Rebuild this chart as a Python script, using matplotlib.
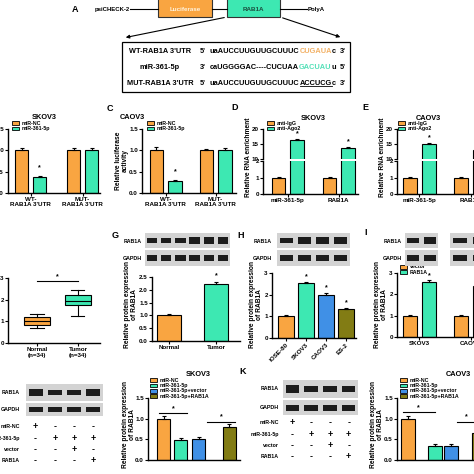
import numpy as np
import matplotlib
matplotlib.use("Agg")
import matplotlib.pyplot as plt
from matplotlib.patches import Rectangle
from matplotlib.transforms import blended_transform_factory

plt.rcParams["font.family"] = ["Liberation Sans", "DejaVu Sans"]
plt.rcParams["font.weight"] = "bold"

W = H = 474
ORANGE = "#F9A541"
GREEN = "#3DE8B2"
BLUE = "#4090E6"
OLIVE = "#827C14"

# ── Data ─────────────────────────────────────────────────────────────────────
LUC_GROUPS = ["WT-\nRAB1A 3'UTR", "MUT-\nRAB1A 3'UTR"]
B_NC, B_NC_ERR = [1.0, 1.0], [0.06, 0.06]
B_MIR, B_MIR_ERR = [0.37, 1.0], [0.03, 0.05]
C_NC, C_NC_ERR = [1.0, 1.0], [0.07, 0.03]
C_MIR, C_MIR_ERR = [0.27, 1.0], [0.04, 0.05]

RIP_GROUPS = ["miR-361-5p", "RAB1A"]
D_IGG, D_IGG_ERR = [1.0, 1.0], [0.04, 0.04]
D_AGO, D_AGO_ERR = [16.2, 13.6], [0.5, 0.5]
E_IGG, E_IGG_ERR = [1.0, 1.0], [0.03, 0.04]
E_AGO, E_AGO_ERR = [15.0, 13.0], [0.3, 0.4]

F_LABELS = ["Normal\n(n=34)", "Tumor\n(n=34)"]
F_NORMAL = [0.70, 0.85, 1.00, 1.20, 1.35]   # whislo, q1, med, q3, whishi
F_TUMOR = [1.25, 1.75, 1.95, 2.22, 2.45]

G_LABELS = ["Normal", "Tumor"]
G_VALS, G_ERR = [1.0, 2.22], [0.06, 0.10]
G_RAB1A = [0.35, 0.45, 0.4, 1.0, 1.0, 1.0]
G_GAPDH = [1.0] * 6

H_LABELS = ["IOSE-80", "SKOV3", "CAOV3", "ES-2"]
H_VALS, H_ERR = [1.0, 2.52, 1.97, 1.32], [0.05, 0.06, 0.12, 0.06]
H_RAB1A = [0.45, 1.0, 0.85, 0.8]
H_GAPDH = [1.0] * 4

I_GROUPS = ["SKOV3", "CAOV3"]
I_VEC, I_VEC_ERR = [1.0, 1.0], [0.04, 0.05]
I_RAB, I_RAB_ERR = [2.6, 2.4], [0.06, 0.08]
I_RAB1A = [0.6, 1.0, 0.7, 0.9]
I_GAPDH = [1.0] * 4

KD_LEGEND = ["miR-NC", "miR-361-5p", "miR-361-5p+vector", "miR-361-5p+RAB1A"]
J_VALS, J_ERR = [1.0, 0.48, 0.50, 0.81], [0.07, 0.06, 0.06, 0.05]
K_VALS, K_ERR = [1.0, 0.33, 0.34, 0.65], [0.07, 0.05, 0.05, 0.05]
J_RAB1A = [1.0, 0.7, 0.75, 0.85]
K_RAB1A = [1.0, 0.6, 0.65, 0.9]
JK_GAPDH = [1.0] * 4
TABLE_ROWS = ["miR-NC", "miR-361-5p", "vector", "RAB1A"]
TABLE = [["+", "-", "-", "-"],
         ["-", "+", "+", "+"],
         ["-", "-", "+", "-"],
         ["-", "-", "-", "+"]]

fig = plt.figure(figsize=(4.74, 4.74), dpi=100)
canvas = fig.add_axes([0, 0, 1, 1])
canvas.set_xlim(0, W)
canvas.set_ylim(H, 0)
canvas.axis("off")


def px_ax(x0, y0, x1, y1):
    ax = fig.add_axes([x0 / W, 1 - y1 / H, (x1 - x0) / W, (y1 - y0) / H])
    ax.set_facecolor("none")
    return ax


def T(x, y, s, size=4.5, **kw):
    kw.setdefault("ha", "center")
    kw.setdefault("va", "center")
    return canvas.text(x, y, s, fontsize=size, **kw)


def style(ax, ylim, yticks, ylabels):
    for s in ["top", "right"]:
        ax.spines[s].set_visible(False)
    for s in ["left", "bottom"]:
        ax.spines[s].set_linewidth(1.0)
    ax.set_ylim(*ylim)
    ax.set_yticks(yticks)
    ax.set_yticklabels(ylabels)
    ax.tick_params(length=2, width=0.8, labelsize=4.5, pad=1)


def bars(ax, xs, vals, errs, colors, width):
    ax.bar(xs, vals, width, color=colors, edgecolor="black", linewidth=0.8, zorder=2)
    ax.errorbar(xs, vals, yerr=[np.zeros(len(vals)), errs], fmt="none",
                ecolor="black", elinewidth=0.8, capsize=1.6, capthick=0.8, zorder=3)


def stars(ax, xs, tops, size=5):
    for x, y in zip(xs, tops):
        ax.text(x, y, "*", ha="center", va="bottom", fontsize=size, clip_on=False)


def legend_px(x, y, labels, colors, dy=5.3, size=3.8):
    for i, (lab, c) in enumerate(zip(labels, colors)):
        canvas.add_patch(Rectangle((x, y + i * dy - 1.8), 7, 3.8, fc=c, ec="black", lw=0.6))
        T(x + 10, y + i * dy, lab, size=size, ha="left")


def blot(box, intensities, n=None, band_h=0.32):
    ax = px_ax(*box)
    n = n or len(intensities)
    ax.set_xlim(-0.5, n - 0.5)
    ax.set_ylim(0, 1)
    ax.set_facecolor("#d3d3d3")
    for s in ax.spines.values():
        s.set_visible(False)
    ax.set_xticks([])
    ax.set_yticks([])
    lanes = np.arange(len(intensities))
    hts = [band_h * (0.45 + 0.55 * v) for v in intensities]
    ax.bar(lanes, hts, 0.72, bottom=[0.5 - h / 2 for h in hts], color="#1c1c1c",
           linewidth=0)
    return ax


def grouped(ax, a, b, aerr, berr, step, width=0.72):
    xa = np.arange(len(a)) * step
    bars(ax, xa, a, aerr, ORANGE, width)
    bars(ax, xa + 1, b, berr, GREEN, width)
    return xa


# ── A: construct diagram ─────────────────────────────────────────────────────
T(75, 9, "A", size=6.5)
T(130, 9, "psiCHECK-2", size=4.3, ha="right")
for x0, x1 in [(130, 158), (212, 227), (280, 307)]:
    canvas.plot([x0, x1], [9, 9], color="black", lw=0.8)
canvas.add_patch(Rectangle((158, -4), 54, 21, fc=ORANGE, ec="#333333", lw=0.8))
canvas.add_patch(Rectangle((227, -4), 53, 21, fc=GREEN, ec="#333333", lw=0.8))
T(185, 9, "Luciferase", size=4.5, color="#fff4e0")
T(253.5, 9, "RAB1A", size=4.5, color="#1b4d3e")
T(308, 9, "PolyA", size=4.3, ha="left")
arrow = dict(arrowstyle="-|>", lw=0.8, color="black", mutation_scale=5)
canvas.annotate("", xy=(123, 38), xytext=(227, 17), arrowprops=arrow)
canvas.annotate("", xy=(343, 38), xytext=(280, 17), arrowprops=arrow)
canvas.add_patch(Rectangle((122, 42), 228, 50, fc="none", ec="black", lw=0.9))

seq_rows = [
    ("WT-RAB1A 3'UTR", "5'", "3'", [("uaAUCCUUGUUGCUUUC", "black"), ("CUGAUA", "#F2B064"), ("c", "black")]),
    ("miR-361-5p", "3'", "5'", [("caUGGGGAC----CUCUAA", "black"), ("GACUAU", "#54E0B8"), ("u", "black")]),
    ("MUT-RAB1A 3'UTR", "5'", "3'", [("uaAUCCUUGUUGCUUUC", "black"), ("ACCUCG", "black"), ("c", "black")]),
]
underline_txt = None
for i, (lab, e5, e3, parts) in enumerate(seq_rows):
    y = 51 + i * 16
    T(160, y, lab, size=5.3)
    T(203, y, e5, size=5.3)
    T(343, y, e3, size=5.3)
    prev = T(210, y, parts[0][0], size=5.3, ha="left", color=parts[0][1])
    for j, (s, c) in enumerate(parts[1:]):
        prev = canvas.annotate(s, xy=(1, 0.5), xycoords=prev, ha="left", va="center",
                               fontsize=5.3, color=c)
        if i == 2 and j == 0:
            underline_txt = prev

# ── B / C: luciferase ────────────────────────────────────────────────────────
for box, nc, nce, mir, mire, title, tx, step, xl, lx in [
        ((8, 129, 100, 193), B_NC, B_NC_ERR, B_MIR, B_MIR_ERR, "SKOV3", 44, 2.89, (-0.75, 4.36), 12),
        ((142, 129, 236, 193), C_NC, C_NC_ERR, C_MIR, C_MIR_ERR, "CAOV3", 132, 2.7, (-0.78, 4.3), 147)]:
    ax = px_ax(*box)
    xa = grouped(ax, nc, mir, nce, mire, step)
    style(ax, (0, 1.5), [0, 0.5, 1.0, 1.5], ["0.0", "0.5", "1.0", "1.5"])
    ax.set_xlim(*xl)
    ax.set_xticks(xa + 0.5)
    ax.set_xticklabels(LUC_GROUPS, fontsize=4.5, linespacing=1.0)
    stars(ax, [xa[0] + 1], [mir[0] + mire[0] + 0.1])
    T(tx, 117, title, size=5.3)
    legend_px(lx, 123, ["miR-NC", "miR-361-5p"], [ORANGE, GREEN])
T(110, 108, "C", size=6.5)
T(122, 161, "Relative luciferase\nactivity", size=4.8, rotation=90, linespacing=1.0)

# ── D / E: RIP, broken axis ─────────────────────────────────────────────────
for x0, x1, igg, iggE, ago, agoE, title, tx, letter, lx, ylx, step, xl in [
        (263, 358, D_IGG, D_IGG_ERR, D_AGO, D_AGO_ERR, "SKOV3", 313, "D", 267, 249, 2.76, (-0.84, 4.3)),
        (397, 495, E_IGG, E_IGG_ERR, E_AGO, E_AGO_ERR, "CAOV3", 428, "E", 398, 383, 2.7, (-0.68, 4.47))]:
    top = px_ax(x0, 129, x1, 159)
    bot = px_ax(x0, 161, x1, 194)
    for ax in (top, bot):
        xa = grouped(ax, igg, ago, iggE, agoE, step)
        ax.set_xlim(*xl)
    style(top, (10, 20), [10, 15, 20], ["10", "15", "20"])
    top.spines["bottom"].set_visible(False)
    top.set_xticks([])
    style(bot, (0, 2), [0, 1, 2], ["0", "1", "2"])
    bot.set_xticks(xa + 0.5)
    bot.set_xticklabels(RIP_GROUPS, fontsize=4.5)
    stars(top, xa + 1, [a + e + 0.6 for a, e in zip(ago, agoE)])
    T(tx, 118, title, size=5.3)
    T(235 if letter == "D" else 365, 107, letter, size=6.5)
    legend_px(lx, 123, ["anti-IgG", "anti-Ago2"], [ORANGE, GREEN])
    T(ylx, 157, "Relative RNA enrichment", size=4.8, rotation=90)

# ── F: box plot ──────────────────────────────────────────────────────────────
ax = px_ax(8, 278, 100, 343)
keys = ["whislo", "q1", "med", "q3", "whishi"]
stats = [dict(zip(keys, F_NORMAL)), dict(zip(keys, F_TUMOR))]
bp = ax.bxp(stats, positions=[0, 1], widths=0.64, patch_artist=True, showfliers=False,
            boxprops=dict(lw=0.8), medianprops=dict(color="black", lw=0.8),
            whiskerprops=dict(lw=0.8), capprops=dict(lw=0.8))
for patch, c in zip(bp["boxes"], [ORANGE, GREEN]):
    patch.set_facecolor(c)
style(ax, (0, 3), [0, 1, 2, 3], ["0", "1", "2", "3"])
ax.set_xlim(-0.71, 1.54)
ax.set_xticks([0, 1])
ax.set_xticklabels(F_LABELS, fontsize=4.5, linespacing=1.1)
ax.plot([0, 1], [2.84, 2.84], color="black", lw=0.8, clip_on=False)
ax.text(0.5, 2.9, "*", ha="center", va="bottom", fontsize=5, clip_on=False)

# ── G ────────────────────────────────────────────────────────────────────────
T(115, 235, "G", size=6.5)
blot((145, 233, 230, 248), G_RAB1A, band_h=0.45)
blot((145, 250, 230, 266), G_GAPDH, band_h=0.38)
T(142, 241, "RAB1A", size=3.8, ha="right")
T(142, 258, "GAPDH", size=3.8, ha="right")
ax = px_ax(152, 277, 240, 341)
bars(ax, np.arange(2), G_VALS, G_ERR, [ORANGE, GREEN], 0.52)
style(ax, (0, 2.5), [0, 0.5, 1, 1.5, 2, 2.5], ["0.0", "0.5", "1.0", "1.5", "2.0", "2.5"])
ax.set_xlim(-0.36, 1.51)
ax.set_xticks([0, 1])
ax.set_xticklabels(G_LABELS, fontsize=4.5)
stars(ax, [1], [G_VALS[1] + G_ERR[1] + 0.08])
T(131, 305, "Relative protein expression\nof RAB1A", size=4.8, rotation=90, linespacing=1.0)

# ── H ────────────────────────────────────────────────────────────────────────
T(241, 235, "H", size=6.5)
blot((277, 233, 350, 248), H_RAB1A, band_h=0.45)
blot((277, 250, 350, 266), H_GAPDH, band_h=0.38)
T(272, 241, "RAB1A", size=3.8, ha="right")
T(272, 258, "GAPDH", size=3.8, ha="right")
ax = px_ax(272, 273, 356, 338)
bars(ax, np.arange(4), H_VALS, H_ERR, [ORANGE, GREEN, BLUE, OLIVE], 0.8)
style(ax, (0, 3), [0, 1, 2, 3], ["0", "1", "2", "3"])
ax.set_xlim(-0.7, 3.5)
ax.set_xticks(np.arange(4))
ax.set_xticklabels(H_LABELS, fontsize=4.5, rotation=45, ha="right", rotation_mode="anchor")
stars(ax, [1, 2, 3], [v + e + 0.08 for v, e in zip(H_VALS[1:], H_ERR[1:])])
T(256, 305, "Relative protein expression\nof RAB1A", size=4.8, rotation=90, linespacing=1.0)

# ── I ────────────────────────────────────────────────────────────────────────
T(366, 232, "I", size=6.5)
blot((405, 233, 438, 248), I_RAB1A[:2], band_h=0.45)
blot((405, 250, 438, 266), I_GAPDH[:2], band_h=0.38)
blot((450, 233, 490, 248), I_RAB1A[2:], band_h=0.45)
blot((450, 250, 490, 266), I_GAPDH[2:], band_h=0.38)
T(402, 241, "RAB1A", size=3.8, ha="right")
T(402, 258, "GAPDH", size=3.8, ha="right")
ax = px_ax(397, 273, 495, 337)
xa = np.arange(2) * 2.7
bars(ax, xa, I_VEC, I_VEC_ERR, ORANGE, 0.72)
bars(ax, xa + 1, I_RAB, I_RAB_ERR, GREEN, 0.72)
style(ax, (0, 3), [0, 1, 2, 3], ["0", "1", "2", "3"])
ax.set_xlim(-0.68, 4.47)
ax.set_xticks(xa + 0.5)
ax.set_xticklabels(I_GROUPS, fontsize=4.5)
stars(ax, [1], [I_RAB[0] + I_RAB_ERR[0] + 0.05])
legend_px(400, 267, ["vector", "RAB1A"], [ORANGE, GREEN], dy=5)
T(381, 305, "Relative protein expression\nof RAB1A", size=4.8, rotation=90, linespacing=1.0)

# ── J / K: rescue ────────────────────────────────────────────────────────────
T(243, 371, "K", size=6.5)
for bx0, bx1, ry, gy, lab_x, tab_y0, rab in [
        (26, 103, (384, 401), (403, 416), 20, 427, J_RAB1A),
        (283, 358, (380, 398), (400, 415), 279, 423, K_RAB1A)]:
    b1 = blot((bx0, ry[0], bx1, ry[1]), rab, band_h=0.4)
    blot((bx0, gy[0], bx1, gy[1]), JK_GAPDH, band_h=0.4)
    T(lab_x, (ry[0] + ry[1]) / 2, "RAB1A", size=3.8, ha="right")
    T(lab_x, (gy[0] + gy[1]) / 2, "GAPDH", size=3.8, ha="right")
    tr = blended_transform_factory(b1.transData, canvas.transData)
    for r, (name, row) in enumerate(zip(TABLE_ROWS, TABLE)):
        y = tab_y0 + r * 11.2
        T(lab_x, y, name, size=3.8, ha="right")
        for c, sym in enumerate(row):
            canvas.text(c, y, sym, transform=tr, ha="center", va="center", fontsize=6.5)

for box, vals, errs, xs, width, xl, title, tx, lx, ylx, sig in [
        ((148, 398, 240, 460), J_VALS, J_ERR, [0, 0.97, 2.0, 3.75], 0.74, (-0.89, 4.37), "SKOV3", 198, 150, 129,
         [(-0.25, 1.35, 1.13), (2.5, 4.1, 0.92)]),
        ((397, 398, 500, 460), K_VALS, K_ERR, [0, 1.69, 2.69, 4.47], 0.87, (-0.66, 5.78), "CAOV3", 458, 400, 377,
         [(-0.3, 1.7, 1.16), (3.1, 4.3, 0.92)])]:
    ax = px_ax(*box)
    bars(ax, xs, vals, errs, [ORANGE, GREEN, BLUE, OLIVE], width)
    style(ax, (0, 1.5), [0, 0.5, 1.0, 1.5], ["0.0", "0.5", "1.0", "1.5"])
    ax.set_xlim(*xl)
    ax.set_xticks([])
    for a, b, y in sig:
        ax.plot([a, b], [y, y], color="black", lw=0.8, clip_on=False)
        ax.text((a + b) / 2, y + 0.03, "*", ha="center", va="bottom", fontsize=5, clip_on=False)
    T(tx, 374, title, size=5.3)
    legend_px(lx, 380, KD_LEGEND, [ORANGE, GREEN, BLUE, OLIVE], dy=5.4)
    T(ylx, 425, "Relative protein expression\nof RAB1A", size=4.8, rotation=90, linespacing=1.0)

# underline of the mutated seed
fig.canvas.draw()
bb = underline_txt.get_window_extent()
inv = canvas.transData.inverted()
(ux0, uy0), (ux1, _) = inv.transform([(bb.x0, bb.y0), (bb.x1, bb.y1)])
canvas.plot([ux0, ux1], [uy0 - 0.5, uy0 - 0.5], color="black", lw=0.6)

fig.savefig("out.png", dpi=100)
